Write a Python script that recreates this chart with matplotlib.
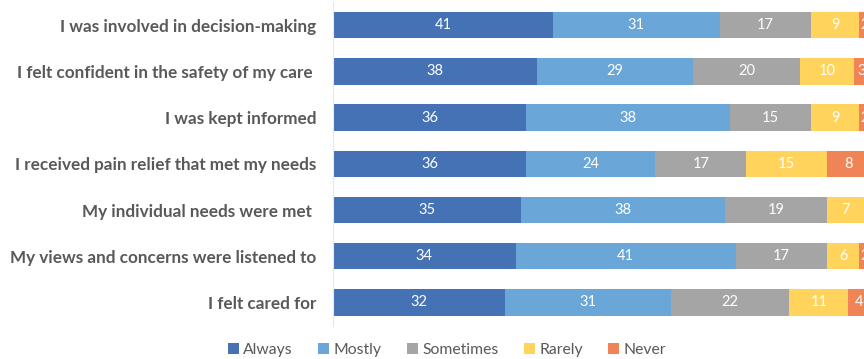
import matplotlib
matplotlib.use("Agg")
import matplotlib.pyplot as plt
import numpy as np

categories = [
    "I was involved in decision-making",
    "I felt confident in the safety of my care ",
    "I was kept informed",
    "I received pain relief that met my needs",
    "My individual needs were met ",
    "My views and concerns were listened to",
    "I felt cared for",
]
series_names = ["Always", "Mostly", "Sometimes", "Rarely", "Never"]
always = [41, 38, 36, 36, 35, 34, 32]
mostly = [31, 29, 38, 24, 38, 41, 31]
sometimes = [17, 20, 15, 17, 19, 17, 22]
rarely = [9, 10, 9, 15, 7, 6, 11]
never = [2, 3, 2, 8, 1, 2, 4]

colors = ["#4472B4", "#6AA6D8", "#A5A5A5", "#FFD35C", "#F08456"]

plt.rcParams['font.family'] = ['Lato', 'DejaVu Sans']

fig = plt.figure(figsize=(8.64, 3.59), dpi=100)
ax = fig.add_axes([333/864, 1 - 325.6/359, 1 - 333/864, (325.6 - 2)/359])

y = np.arange(len(categories))
left = np.zeros(len(categories))
data = [always, mostly, sometimes, rarely, never]
for name, vals, col in zip(series_names, data, colors):
    vals = np.array(vals, dtype=float)
    ax.barh(y, vals, left=left, height=0.57, color=col, label=name)
    for yi, l, v in zip(y, left, vals):
        ax.text(l + v / 2, yi, f"{int(v)}", ha="center", va="center",
                color="white", fontsize=10.5, clip_on=True)
    left += vals

ax.set_xlim(0, 98.9)
ax.set_ylim(len(categories) - 0.5, -0.5)
ax.set_yticks(y)
ax.set_yticklabels(categories, fontsize=12.3, fontweight="bold", color="#595959")
ax.tick_params(axis="y", length=0, pad=12)
ax.set_xticks([])
for s in ["top", "right", "bottom"]:
    ax.spines[s].set_visible(False)
ax.spines["left"].set_color("#E4E8F0")
ax.spines["left"].set_linewidth(0.8)

handles, labels = ax.get_legend_handles_labels()
fig.legend(handles, labels, loc="center", bbox_to_anchor=(447/864, 1 - 350/359),
           ncol=5, frameon=False, fontsize=11.3, labelcolor="#595959",
           handlelength=0.7, handleheight=0.7, handletextpad=0.3, columnspacing=1.6)

fig.savefig("out.png", dpi=100)
